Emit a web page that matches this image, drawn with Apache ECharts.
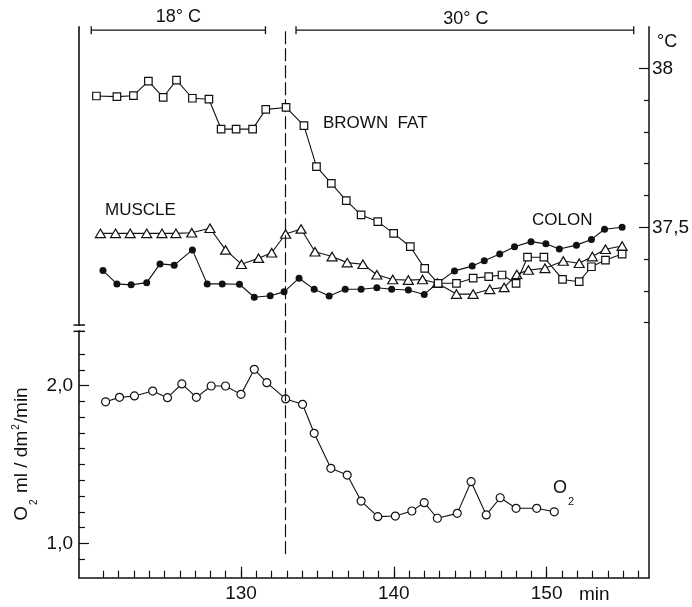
<!DOCTYPE html>
<html>
<head>
<meta charset="utf-8">
<script src="https://cdn.jsdelivr.net/npm/echarts@6/dist/echarts.min.js"></script>
<style>
html,body{margin:0;padding:0;background:#fff;}
#chart{width:692px;height:607px;}
</style>
</head>
<body>
<div id="chart"></div>
<script>
// ---- data (minutes, °C / O2 ml/dm²/min) ----
const brownTime = [120.54,121.88,122.96,123.94,124.91,125.78,126.82,127.90,128.70,129.68,130.76,131.62,132.95,134.12,134.94,135.91,136.89,137.86,138.95,139.99,141.08,142.02,142.90,144.10,145.19,146.21,147.08,148.00,148.75,149.82,151.04,152.13,152.93,153.85,154.94];
const brownFat = [37.913,37.911,37.914,37.960,37.909,37.963,37.906,37.903,37.809,37.809,37.809,37.871,37.877,37.820,37.691,37.638,37.584,37.539,37.518,37.481,37.439,37.371,37.324,37.324,37.340,37.345,37.350,37.324,37.406,37.406,37.336,37.329,37.376,37.397,37.416];

const muscleTime = [120.80,121.79,122.75,123.83,124.83,125.74,126.78,127.97,128.99,130.03,131.15,132.01,132.92,133.93,134.84,135.96,136.95,137.98,138.89,139.93,140.95,141.88,142.85,144.10,145.19,146.28,147.22,148.05,148.81,149.89,151.09,152.13,152.99,153.85,154.94];
const muscle = [37.481,37.481,37.481,37.481,37.481,37.481,37.483,37.497,37.429,37.384,37.403,37.420,37.479,37.495,37.423,37.408,37.389,37.384,37.351,37.336,37.334,37.336,37.324,37.290,37.290,37.305,37.311,37.352,37.366,37.371,37.394,37.387,37.408,37.431,37.441];

const colonTime = [120.97,121.88,122.81,123.83,124.70,125.63,126.82,127.79,128.77,129.90,130.87,131.91,132.82,133.80,134.79,135.77,136.82,137.86,138.89,139.86,140.95,141.99,142.85,143.97,145.13,145.92,146.93,147.90,148.98,149.95,150.83,151.95,152.93,153.79,154.94];
const colon = [37.364,37.322,37.319,37.326,37.385,37.381,37.429,37.322,37.322,37.321,37.280,37.285,37.297,37.340,37.305,37.284,37.305,37.305,37.310,37.305,37.303,37.289,37.324,37.363,37.378,37.395,37.416,37.439,37.455,37.448,37.432,37.444,37.462,37.494,37.500];

const o2Time = [121.14,122.05,123.03,124.22,125.19,126.13,127.08,128.05,128.99,130.00,130.87,131.69,132.92,134.03,134.79,135.88,136.95,137.86,138.95,140.10,141.18,141.99,142.85,144.15,145.06,146.05,146.96,148.00,149.35,150.50];
const o2 = [1.898,1.926,1.935,1.966,1.924,2.011,1.926,1.998,1.998,1.945,2.104,2.019,1.916,1.882,1.698,1.476,1.433,1.268,1.169,1.173,1.205,1.258,1.159,1.190,1.391,1.180,1.289,1.222,1.222,1.200];

// tick labels
const xLabels = [130, 140, 150];
const xTicks = [121,122,123,124,125,126,127,128,129,130,131,132,133,134,135,136,137,138,139,140,141,142,143,144,145,146,147,148,149,150,151,152,153,154,155,156];
const o2Labels = [1.0, 2.0];
const o2Ticks = [0.9,1.1,1.2,1.3,1.4,1.5,1.6,1.7,1.8,1.9,2.1,2.2];
const tempLabels = [38.0, 37.5];
const tempTicks = [37.2,37.3,37.4,37.6,37.7,37.8,37.9];

// phases (ambient temperature) and switch time
const phaseNames = ['18° C', '30° C'];
const phaseFrom = [120.2, 133.6];
const phaseTo = [131.6, 155.7];
const switchTime = 132.9;

const INK = '#111';
const FONT = '"Liberation Sans", Arial, sans-serif';
const zip = (t, v) => t.map((x, i) => [x, v[i]]);
const comma = v => (Math.round(v * 10) / 10).toFixed(1).replace('.', ',').replace(/,0$/, ',0');

const X_MIN = 119.4, X_MAX = 156.7;
const O2_MIN = 0.7817, O2_MAX = 4.278;
const T_MIN = 36.398, T_MAX = 38.131;

const hollow = { color: '#fff', borderColor: INK, borderWidth: 1.2 };
const thin = { color: INK, width: 1.1 };

const chart = echarts.init(document.getElementById('chart'), null, { renderer: 'canvas' });

const option = {
  animation: false,
  backgroundColor: '#fff',
  textStyle: { fontFamily: FONT, color: INK },
  grid: { left: 79, right: 38.7, top: 26.7, bottom: 29.3 },
  xAxis: [
    {
      type: 'value', min: X_MIN, max: X_MAX, position: 'bottom',
      axisLine: { show: true, lineStyle: { color: INK, width: 1.5 } },
      axisTick: { show: true, inside: true, length: 7, customValues: xTicks, lineStyle: { color: INK, width: 1.2 } },
      axisLabel: { customValues: xLabels, fontSize: 19, color: INK, margin: 7, fontFamily: FONT },
      splitLine: { show: false }
    },
    {
      type: 'value', min: X_MIN, max: X_MAX, position: 'bottom',
      axisLine: { show: false },
      axisTick: { show: true, inside: true, length: 11, customValues: xLabels, lineStyle: { color: INK, width: 1.2 } },
      axisLabel: { show: false },
      splitLine: { show: false }
    }
  ],
  yAxis: [
    {
      type: 'value', min: O2_MIN, max: O2_MAX, position: 'left',
      axisLine: { show: true, lineStyle: { color: INK, width: 1.6 } },
      axisTick: { show: true, inside: true, length: 6, customValues: o2Ticks, lineStyle: { color: INK, width: 1.2 } },
      axisLabel: { customValues: o2Labels, fontSize: 19, color: INK, margin: 6, fontFamily: FONT, formatter: v => comma(v) },
      splitLine: { show: false }
    },
    {
      type: 'value', min: O2_MIN, max: O2_MAX, position: 'left',
      axisLine: { show: false },
      axisTick: { show: true, inside: true, length: 10, customValues: o2Labels, lineStyle: { color: INK, width: 1.2 } },
      axisLabel: { show: false },
      splitLine: { show: false }
    },
    {
      type: 'value', min: T_MIN, max: T_MAX, position: 'right',
      axisLine: { show: true, lineStyle: { color: INK, width: 1.5 } },
      axisTick: { show: true, inside: true, length: 10, customValues: tempLabels, lineStyle: { color: INK, width: 1.2 } },
      axisLabel: { customValues: tempLabels, fontSize: 19, color: INK, margin: 3, fontFamily: FONT,
        formatter: v => (Math.abs(v - Math.round(v)) < 1e-6 ? String(Math.round(v)) : comma(v)) },
      splitLine: { show: false }
    },
    {
      type: 'value', min: T_MIN, max: T_MAX, position: 'right',
      axisLine: { show: false },
      axisTick: { show: true, inside: true, length: 5, customValues: tempTicks, lineStyle: { color: INK, width: 1.2 } },
      axisLabel: { show: false },
      splitLine: { show: false }
    }
  ],
  series: [
    {
      name: 'O2', type: 'line', xAxisIndex: 0, yAxisIndex: 0, data: zip(o2Time, o2),
      symbol: 'circle', symbolSize: 8, itemStyle: hollow, lineStyle: thin, z: 3,
      markLine: {
        silent: true, symbol: ['none', 'none'], label: { show: false },
        lineStyle: { color: INK, width: 1.2, type: [13, 4] },
        data: [[{ coord: [switchTime, 0.93] }, { coord: [switchTime, 4.27] }]]
      }
    },
    {
      name: 'COLON', type: 'line', xAxisIndex: 0, yAxisIndex: 2, data: zip(colonTime, colon),
      symbol: 'circle', symbolSize: 7, itemStyle: { color: INK, borderColor: INK, borderWidth: 0 }, lineStyle: thin, z: 3
    },
    {
      name: 'MUSCLE', type: 'line', xAxisIndex: 0, yAxisIndex: 2, data: zip(muscleTime, muscle),
      symbol: 'triangle', symbolSize: [10, 8.5], itemStyle: hollow, lineStyle: thin, z: 4
    },
    {
      name: 'BROWN FAT', type: 'line', xAxisIndex: 0, yAxisIndex: 2, data: zip(brownTime, brownFat),
      symbol: 'rect', symbolSize: 7.5, itemStyle: hollow, lineStyle: thin, z: 5
    }
  ].concat(phaseNames.map((n, i) => ({
    name: n, type: 'line', xAxisIndex: 0, yAxisIndex: 2, silent: true,
    data: [[phaseFrom[i], 38.12], [phaseTo[i], 38.12]],
    symbol: 'rect', symbolSize: [1.3, 8], itemStyle: { color: INK }, lineStyle: { color: INK, width: 1.2 }, z: 2
  })))
};
chart.setOption(option);

// ---- text annotations ----
function txt(text, x, y, size, align, extra) {
  return Object.assign({
    type: 'text', x: x, y: y, z: 50,
    style: { text: text, fontSize: size, fontFamily: FONT, fill: INK, align: align || 'left', verticalAlign: 'middle' }
  }, extra || {});
}
const toPx = (t, v, yi) => chart.convertToPixel({ xAxisIndex: 0, yAxisIndex: yi }, [t, v]);
const p18 = toPx((phaseFrom[0] + phaseTo[0]) / 2, 38.12, 2);
const p30 = toPx((phaseFrom[1] + phaseTo[1]) / 2, 38.12, 2);
const brk1 = chart.convertToPixel({ yAxisIndex: 0 }, 2.345);
const brk2 = chart.convertToPixel({ yAxisIndex: 0 }, 2.385);
const axX = chart.convertToPixel({ xAxisIndex: 0 }, X_MIN);

chart.setOption({
  graphic: [
    txt(phaseNames[0], p18[0], p18[1] - 13, 18, 'center'),
    txt(phaseNames[1], p30[0] + 1, p30[1] - 11, 18, 'center'),
    txt('°C', 657, 42, 18, 'left'),
    txt('BROWN  FAT', 323, 123, 17, 'left'),
    txt('MUSCLE', 105, 210, 17, 'left'),
    txt('COLON', 532, 220, 17, 'left'),
    txt('min', 579, 595, 19, 'left'),
    {
      type: 'text', x: 553, y: 488, z: 50,
      style: { text: 'O{s|2}', fontSize: 18, fontFamily: FONT, fill: INK, align: 'left', verticalAlign: 'middle', lineHeight: 22,
        rich: { s: { fontSize: 11, fontFamily: FONT, fill: INK, verticalAlign: 'bottom', lineHeight: 11, padding: [0, 0, -8, 1] } } }
    },
    {
      type: 'text', x: 22, y: 454, z: 50, rotation: Math.PI / 2,
      style: { text: 'O{s|2} ml / dm{p|2}/min', fontSize: 19, fontFamily: FONT, fill: INK, align: 'center', verticalAlign: 'middle', lineHeight: 22,
        rich: {
          s: { fontSize: 10, fontFamily: FONT, fill: INK, verticalAlign: 'bottom', lineHeight: 10, padding: [0, 1, -6, 1] },
          p: { fontSize: 10, fontFamily: FONT, fill: INK, verticalAlign: 'top', lineHeight: 10, padding: [0, 1, 0, 1] }
        } }
    },
    // axis break on the left axis
    { type: 'rect', z: 60, shape: { x: axX - 7, y: brk2 + 1, width: 14, height: brk1 - brk2 - 2 }, style: { fill: '#fff' } },
    { type: 'line', z: 61, shape: { x1: axX - 5.5, y1: brk2, x2: axX + 6, y2: brk2 }, style: { stroke: INK, lineWidth: 1.5 } },
    { type: 'line', z: 61, shape: { x1: axX - 5.5, y1: brk1, x2: axX + 6, y2: brk1 }, style: { stroke: INK, lineWidth: 1.5 } }
  ]
});
</script>
</body>
</html>
